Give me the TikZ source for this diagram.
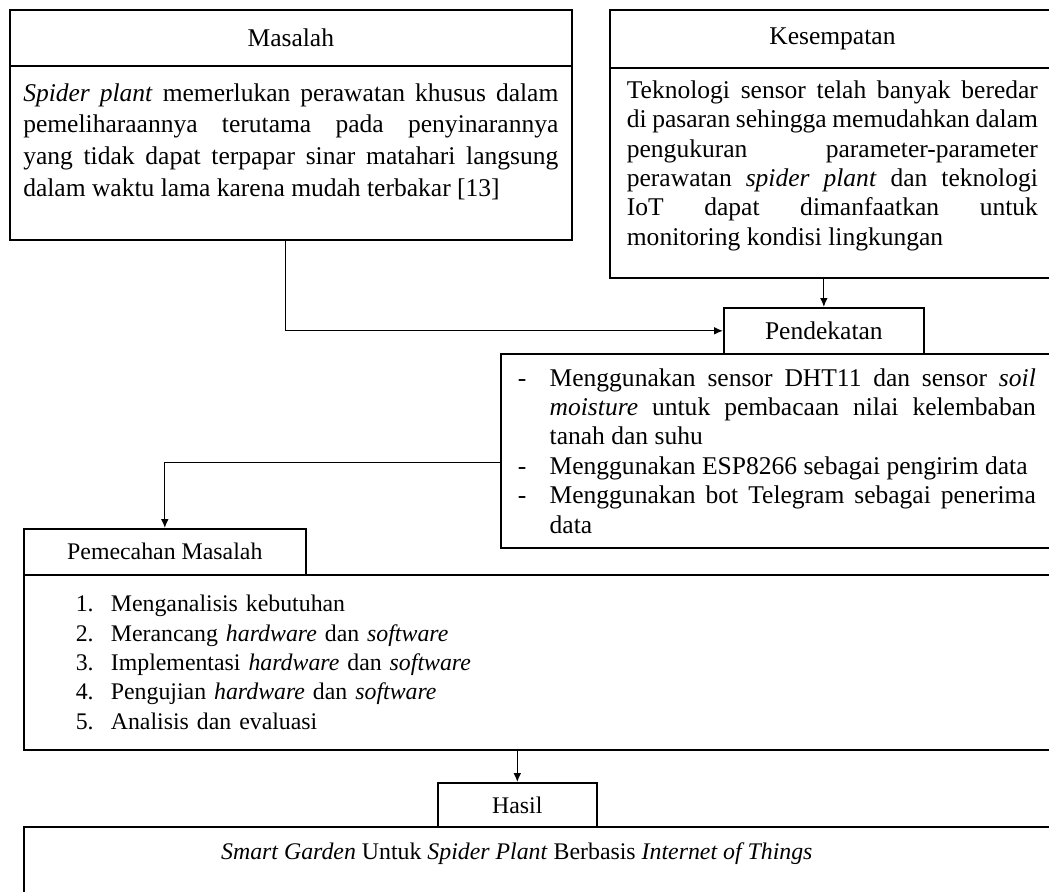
\documentclass[tikz,border=0pt]{standalone}
\usepackage{fontspec}
\setmainfont{Liberation Serif}
\usepackage{tikz}
\usetikzlibrary{shapes,arrows,arrows.meta,positioning,calc}
\hyphenpenalty=10000
\exhyphenpenalty=10000
\tolerance=10000
\hbadness=10000
\tikzstyle{head} = [rectangle, anchor=north west, draw=black, line width=0.8pt, inner sep=0pt, text centered, font=\fontsize{12pt}{13.8pt}\selectfont]
\tikzstyle{body} = [rectangle, anchor=north west, draw=black, line width=0.8pt, inner sep=0pt, align=justify, font=\fontsize{12pt}{13.8pt}\selectfont]
\tikzstyle{small} = [font=\fontsize{11.2pt}{13.8pt}\selectfont]
\tikzstyle{arrow} = [line width=0.6pt,->,>={Latex[length=4.2pt,width=3.6pt]}]

\begin{document}
\begin{tikzpicture}[x=0.47pt, y=-0.47pt]
\useasboundingbox (0,0) rectangle (1049,892);
\clip (0,0) rectangle (1049,892);

% Masalah
\node (mslhHead) [head, minimum width=264.1pt, minimum height=26.3pt] at (9,9) {Masalah};
\node (mslhBody) [body, minimum width=264.1pt, minimum height=81.8pt, text width=251.5pt, text depth=57pt, font=\fontsize{12pt}{15pt}\selectfont] at (9,65) {\textit{Spider plant} memerlukan perawatan khusus dalam\linebreak pemeliharaannya terutama pada penyinarannya\linebreak yang tidak dapat terpapar sinar matahari langsung\linebreak dalam waktu lama karena mudah terbakar [13]};

% Kesempatan
\node (kspHead) [head, minimum width=209.2pt, minimum height=27.3pt] at (609,9) {Kesempatan};
\node (kspBody) [body, minimum width=209.2pt, minimum height=98.7pt, text width=193.2pt, text depth=78.2pt] at (609,67) {Teknologi sensor telah banyak beredar\linebreak di pasaran sehingga memudahkan dalam\linebreak pengukuran parameter-parameter\linebreak perawatan \textit{spider plant} dan teknologi\linebreak IoT dapat dimanfaatkan untuk\linebreak monitoring kondisi lingkungan};

% Pendekatan
\node (pdkHead) [head, minimum width=94pt, minimum height=21.6pt] at (723,307) {Pendekatan};
\node (pdkBody) [body, minimum width=259.4pt, minimum height=91.2pt, text width=243.5pt] at (500,353) {\hangindent=15pt\hangafter=1\makebox[15pt][l]{-}Menggunakan sensor DHT11 dan sensor \textit{soil}\linebreak \textit{moisture} untuk pembacaan nilai kelembaban\linebreak tanah dan suhu\par
\hangindent=15pt\hangafter=1\makebox[15pt][l]{-}Menggunakan ESP8266 sebagai pengirim data\par
\hangindent=15pt\hangafter=1\makebox[15pt][l]{-}Menggunakan bot Telegram sebagai penerima\linebreak data\par};

% Pemecahan Masalah
\node (pmcHead) [head, small, minimum width=132.5pt, minimum height=21.6pt] at (23,528) {Pemecahan Masalah};
\node (pmcBody) [body, small, align=left, minimum width=483.6pt, minimum height=82.3pt, text width=470pt] at (23,574) {\hspace*{17.6pt}\makebox[16.5pt][l]{1.}Menganalisis kebutuhan\\
\hspace*{17.6pt}\makebox[16.5pt][l]{2.}Merancang \textit{hardware} dan \textit{software}\\
\hspace*{17.6pt}\makebox[16.5pt][l]{3.}Implementasi \textit{hardware} dan \textit{software}\\
\hspace*{17.6pt}\makebox[16.5pt][l]{4.}Pengujian \textit{hardware} dan \textit{software}\\
\hspace*{17.6pt}\makebox[16.5pt][l]{5.}Analisis dan evaluasi};

% Hasil
\node (hslHead) [head, small, minimum width=74.7pt, minimum height=20.7pt] at (437,782) {Hasil};
\node (hslBody) [head, small, minimum width=483.6pt, minimum height=42.3pt, text depth=19.6pt] at (23,826) {\textit{Smart Garden} Untuk \textit{Spider Plant} Berbasis \textit{Internet of Things}\hspace*{20.2pt}\mbox{}};

% Panah
\draw [arrow] ([xshift=-2.4pt]mslhBody.south) |- (pdkHead.west);
\draw [arrow] (kspBody.south -| pdkHead.north) -- (pdkHead.north);
\draw [arrow] ([yshift=-5.6pt]pdkBody.west) -| (pmcHead.north);
\draw [arrow] (pmcBody.south -| hslHead.north) -- (hslHead.north);

\end{tikzpicture}
\end{document}
